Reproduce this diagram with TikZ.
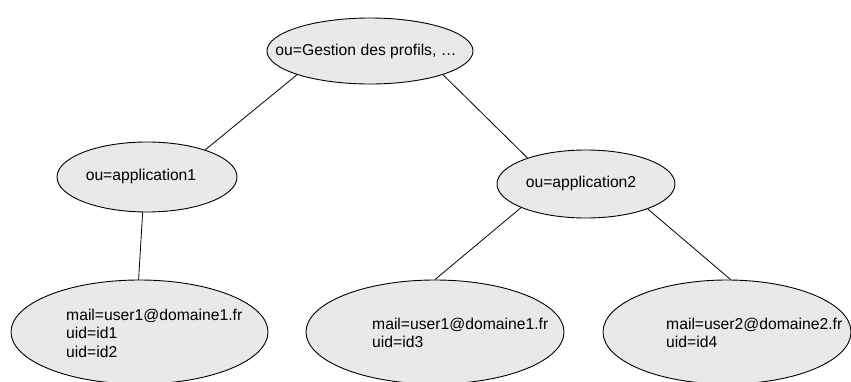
\documentclass[tikz,border=0pt]{standalone}
\usepackage{fontspec}
\setmainfont{Liberation Sans}
\usetikzlibrary{shapes.geometric}
\definecolor{entryfill}{HTML}{E9E9E9}
\tikzset{
  entry/.style={ellipse, draw=black, fill=entryfill, line width=0.9pt, inner sep=0pt},
  entrytext/.style={font=\fontsize{15.7}{18.5}\selectfont, inner sep=0pt, align=left},
  link/.style={draw=black, line width=0.8pt}
}
\begin{document}
\begin{tikzpicture}[x=1pt,y=-1pt]
  \useasboundingbox (0,0) rectangle (851,381);

  % directory tree entries
  \node[entry, minimum width=206pt, minimum height=66pt] (root) at (370,51) {};
  \node[entry, minimum width=180pt, minimum height=70pt] (app1) at (147,177) {};
  \node[entry, minimum width=178pt, minimum height=68pt] (app2) at (586,184) {};
  \node[entry, minimum width=257pt, minimum height=104pt] (u1) at (139.5,332) {};
  \node[entry, minimum width=258pt, minimum height=104pt] (u2) at (435,332) {};
  \node[entry, minimum width=248pt, minimum height=104pt] (u3) at (727,332) {};

  % entry labels
  \node[entrytext] (rootlbl) at (366,51) {ou=Gestion des profils, …};
  \node[entrytext] (app1lbl) at (141,176) {ou=application1};
  \node[entrytext] (app2lbl) at (581,183) {ou=application2};
  \node[entrytext, anchor=west] (u1lbl) at (66,333) {mail=user1@domaine1.fr\\uid=id1\\uid=id2};
  \node[entrytext, anchor=west] (u2lbl) at (372,333) {mail=user1@domaine1.fr\\uid=id3};
  \node[entrytext, anchor=west] (u3lbl) at (666,333) {mail=user2@domaine2.fr\\uid=id4};

  % tree edges
  \draw[link] (root.198) -- (app1.25);
  \draw[link] (root.342) -- (app2.156);
  \draw[link] (app1.263.5) -- (u1.91);
  \draw[link] (app2.200) -- (u2.90);
  \draw[link] (app2.338) -- (u3.86);
\end{tikzpicture}
\end{document}
